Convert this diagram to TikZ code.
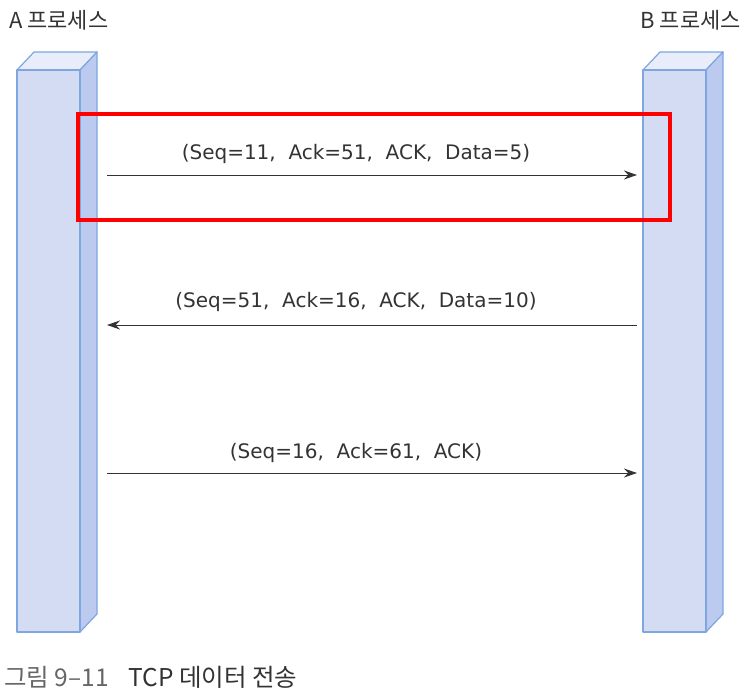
\documentclass[tikz,border=0pt]{standalone}
\usepackage{fontspec}
\setmainfont{Noto Sans CJK KR}
\newfontfamily\msgfont{DejaVu Sans}
\usepackage{xcolor}
\usepackage{tikz}
\usetikzlibrary{arrows.meta, calc}
\definecolor{ink}{HTML}{333333}
\definecolor{barfront}{HTML}{D4DCF4}
\definecolor{barside}{HTML}{BCCAF0}
\definecolor{bartop}{HTML}{E9EDF9}
\definecolor{barline}{HTML}{7EA6E0}
\definecolor{capgray}{HTML}{666666}

\begin{document}
\begin{tikzpicture}[x=1pt, y=-1pt,
  face/.style={draw=barline, line width=1.2pt, line join=round},
  msg/.style={->, draw=ink, line width=0.9pt},
  lbl/.style={text=ink, font=\msgfont\fontsize{20}{22}\selectfont, inner sep=0pt, xshift=-16pt},
  title/.style={text=ink, font=\fontsize{22}{24}\selectfont, inner sep=0pt},
  >={Stealth[length=13pt, width=9pt]}
]
\useasboundingbox (0,0) rectangle (752,700);

% process bars
\foreach \x/\n in {17/abar, 643/bbar} {
  \fill[bartop, face] (\x,70) -- ++(17,-18) -- ++(63,0) -- ++(-17,18) -- cycle;
  \fill[barside, face] (\x+63,70) -- ++(17,-18) -- ++(0,562) -- ++(-17,18) -- cycle;
  \fill[barfront, face] (\x,70) rectangle ++(63,562);
  \coordinate (\n) at (\x+63,0);
}

\node[title, anchor=west] (atitle) at (9,20) {A 프로세스};
\node[title, anchor=east] (btitle) at (741,20) {B 프로세스};

% message end points
\coordinate (a1) at (107,175);  \coordinate (b1) at (637,175);
\coordinate (a2) at (107,325);  \coordinate (b2) at (637,325);
\coordinate (a3) at (107,473);  \coordinate (b3) at (637,473);

\draw[msg] (a1) -- node[lbl, above=11pt] (m1) {(Seq=11,\ \ Ack=51,\ \ ACK,\ \ Data=5)} (b1);
\draw[msg] (b2) -- node[lbl, above=13pt] (m2) {(Seq=51,\ \ Ack=16,\ \ ACK,\ \ Data=10)} (a2);
\draw[msg] (a3) -- node[lbl, above=10pt] (m3) {(Seq=16,\ \ Ack=61,\ \ ACK)} (b3);

% highlight
\draw[red, line width=4pt] (78,114) rectangle (670,220);

\node[anchor=west, inner sep=0pt, font=\fontsize{24.5}{26}\selectfont] (caption) at (4,677)
  {\textcolor{capgray}{그림 9--11}\hspace{20pt}\textcolor{ink}{TCP 데이터 전송}};
\end{tikzpicture}
\end{document}
